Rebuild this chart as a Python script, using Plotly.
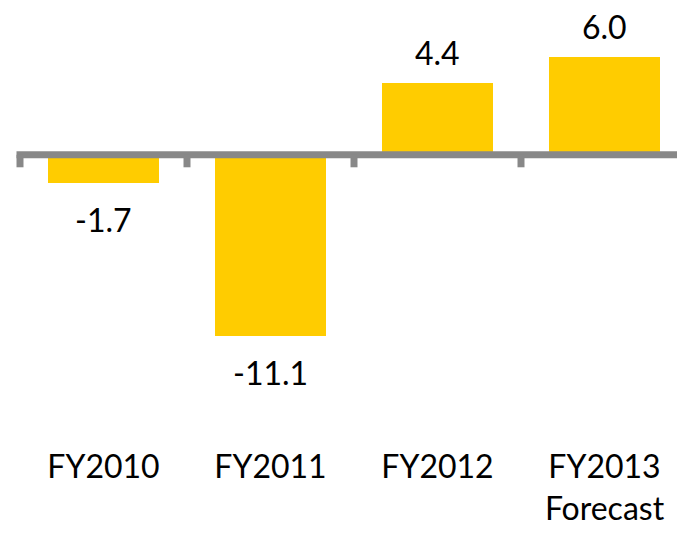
import plotly.graph_objects as go

categories = ["FY2010", "FY2011", "FY2012", "FY2013<br>Forecast"]
values = [-1.7, -11.1, 4.4, 6.0]
value_labels = ["-1.7", "-11.1", "4.4", "6.0"]

OFF = 8                 # page margin around the figure
W, H = 685 - 2 * OFF, 535 - 2 * OFF
ML, MR, MT, MB = 4, 0, 0, 65
CAT_PX = 167.0          # pixels per category
LEFT_PX = 20 - OFF      # x pixel of first category boundary
ZERO_PX = 160.5 - OFF   # y pixel of zero line
UNIT_PX = 17.0          # pixels per unit

plot_w = W - ML - MR
plot_h = H - MT - MB
x_lo = -0.5 - (LEFT_PX - ML) / CAT_PX
x_hi = x_lo + plot_w / CAT_PX
y_hi = (ZERO_PX - MT) / UNIT_PX
y_lo = -(plot_h - (ZERO_PX - MT)) / UNIT_PX

FONT = "Lato, 'Open Sans', sans-serif"
BAR = "#FFCC00"
AXIS = "#888888"

idx = list(range(len(categories)))

fig = go.Figure(go.Bar(
    x=idx, y=values, width=0.67, marker=dict(color=BAR, line=dict(width=0)),
    hoverinfo="skip",
))

annotations = []
for i, v, t in zip(idx, values, value_labels):
    annotations.append(dict(
        x=i, y=v, xref="x", yref="y", text=t, showarrow=False,
        yanchor="middle", xanchor="center",
        yshift=30 if v >= 0 else -36.5,
        font=dict(family=FONT, size=32, color="#000000"),
    ))

shapes = [dict(
    type="line", xref="x", yref="y",
    x0=-0.5 - 3.5 / CAT_PX, x1=x_hi, y0=0, y1=0,
    line=dict(color=AXIS, width=7), layer="above",
)]
for b in [i - 0.5 for i in idx]:
    shapes.append(dict(
        type="line", xref="x", yref="y", ysizemode="pixel", yanchor=0,
        x0=b, x1=b, y0=0, y1=-12.5,
        line=dict(color=AXIS, width=7), layer="above",
    ))

fig.update_layout(
    width=W, height=H,
    margin=dict(l=ML, r=MR, t=MT, b=MB, pad=0),
    paper_bgcolor="white", plot_bgcolor="white",
    showlegend=False,
    bargap=0,
    annotations=annotations,
    shapes=shapes,
    xaxis=dict(
        range=[x_lo, x_hi], tickmode="array", tickvals=idx, ticktext=categories,
        showline=False, showgrid=False, zeroline=False, ticks="",
        tickfont=dict(family=FONT, size=32, color="#000000"),
    ),
    yaxis=dict(
        range=[y_lo, y_hi], visible=False, showgrid=False, zeroline=False,
    ),
)

fig.write_html("out.html")
